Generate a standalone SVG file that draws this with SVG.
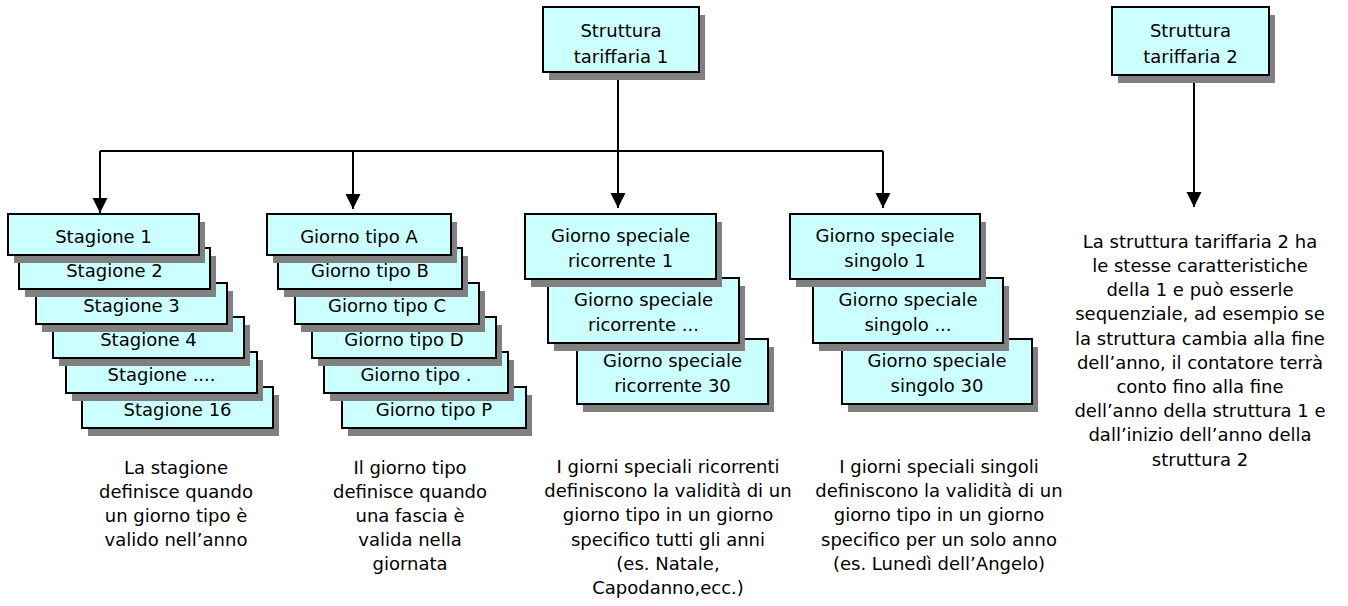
<svg xmlns="http://www.w3.org/2000/svg" width="1348" height="606" viewBox="0 0 1348 606">
<style>
.box{fill:#CCFFFF;stroke:#000;stroke-width:2}
.sh{fill:#808080}
text{font-family:"DejaVu Sans","Liberation Sans",sans-serif;font-size:18px;fill:#000;text-anchor:middle}
.ln{fill:none;stroke:#000;stroke-width:2}
</style>
<defs>
<marker id="ah" markerUnits="userSpaceOnUse" markerWidth="16" markerHeight="16" refX="15" refY="7.5" orient="auto">
<path d="M0,0 L15,7.5 L0,15 z" fill="#000"/>
</marker>
</defs>
<rect width="1348" height="606" fill="#fff"/>

<g id="connectors">
<line class="ln" x1="618" y1="73" x2="618" y2="151"/>
<line class="ln" x1="100" y1="151" x2="883" y2="151"/>
<line class="ln" x1="100" y1="151" x2="100" y2="213" marker-end="url(#ah)"/>
<line class="ln" x1="353" y1="151" x2="353" y2="209" marker-end="url(#ah)"/>
<line class="ln" x1="618" y1="151" x2="618" y2="208" marker-end="url(#ah)"/>
<line class="ln" x1="883" y1="151" x2="883" y2="208" marker-end="url(#ah)"/>
<line class="ln" x1="1194" y1="76" x2="1194" y2="207" marker-end="url(#ah)"/>
</g>

<g id="struttura1">
<rect class="sh" x="549" y="15" width="156" height="65"/>
<rect class="box" x="543" y="7" width="156" height="65"/>
<text x="621" y="37">Struttura</text>
<text x="621" y="63">tariffaria 1</text>
</g>

<g id="struttura2">
<rect class="sh" x="1118" y="15" width="157" height="68"/>
<rect class="box" x="1112" y="7" width="157" height="68"/>
<text x="1190.5" y="37">Struttura</text>
<text x="1190.5" y="63">tariffaria 2</text>
</g>

<g id="stagioni">
<g id="stagione16">
<rect class="sh" x="88" y="395" width="191" height="41"/>
<rect class="box" x="82" y="387" width="191" height="41"/>
<text x="177.5" y="416">Stagione 16</text>
</g>
<g id="stagione-n">
<rect class="sh" x="72" y="360" width="191" height="41"/>
<rect class="box" x="66" y="352" width="191" height="41"/>
<text x="161.5" y="381">Stagione ....</text>
</g>
<g id="stagione4">
<rect class="sh" x="59" y="325" width="191" height="41"/>
<rect class="box" x="53" y="317" width="191" height="41"/>
<text x="148.5" y="346">Stagione 4</text>
</g>
<g id="stagione3">
<rect class="sh" x="42" y="291" width="191" height="41"/>
<rect class="box" x="36" y="283" width="191" height="41"/>
<text x="131.5" y="312">Stagione 3</text>
</g>
<g id="stagione2">
<rect class="sh" x="25" y="256" width="191" height="41"/>
<rect class="box" x="19" y="248" width="191" height="41"/>
<text x="114.5" y="277">Stagione 2</text>
</g>
<g id="stagione1">
<rect class="sh" x="14" y="222" width="191" height="41"/>
<rect class="box" x="8" y="214" width="191" height="41"/>
<text x="103.5" y="243">Stagione 1</text>
</g>
</g>

<g id="giorni-tipo">
<g id="tipoP">
<rect class="sh" x="348" y="395" width="184" height="41"/>
<rect class="box" x="342" y="387" width="184" height="41"/>
<text x="434" y="416">Giorno tipo P</text>
</g>
<g id="tipo-n">
<rect class="sh" x="330" y="360" width="184" height="41"/>
<rect class="box" x="324" y="352" width="184" height="41"/>
<text x="416" y="381">Giorno tipo .</text>
</g>
<g id="tipoD">
<rect class="sh" x="318" y="325" width="184" height="41"/>
<rect class="box" x="312" y="317" width="184" height="41"/>
<text x="404" y="346">Giorno tipo D</text>
</g>
<g id="tipoC">
<rect class="sh" x="301" y="291" width="184" height="41"/>
<rect class="box" x="295" y="283" width="184" height="41"/>
<text x="387" y="312">Giorno tipo C</text>
</g>
<g id="tipoB">
<rect class="sh" x="284" y="256" width="184" height="41"/>
<rect class="box" x="278" y="248" width="184" height="41"/>
<text x="370" y="277">Giorno tipo B</text>
</g>
<g id="tipoA">
<rect class="sh" x="273" y="222" width="184" height="41"/>
<rect class="box" x="267" y="214" width="184" height="41"/>
<text x="359" y="243">Giorno tipo A</text>
</g>
</g>

<g id="ricorrenti">
<g id="ricorrente30">
<rect class="sh" x="583" y="347" width="191" height="65"/>
<rect class="box" x="577" y="339" width="191" height="65"/>
<text x="672.5" y="367">Giorno speciale</text>
<text x="672.5" y="392">ricorrente 30</text>
</g>
<g id="ricorrente-n">
<rect class="sh" x="554" y="286" width="191" height="65"/>
<rect class="box" x="548" y="278" width="191" height="65"/>
<text x="643.5" y="306">Giorno speciale</text>
<text x="643.5" y="331">ricorrente ...</text>
</g>
<g id="ricorrente1">
<rect class="sh" x="531" y="222" width="191" height="65"/>
<rect class="box" x="525" y="214" width="191" height="65"/>
<text x="620.5" y="242">Giorno speciale</text>
<text x="620.5" y="267">ricorrente 1</text>
</g>
</g>

<g id="singoli">
<g id="singolo30">
<rect class="sh" x="848" y="347" width="190" height="65"/>
<rect class="box" x="842" y="339" width="190" height="65"/>
<text x="937" y="367">Giorno speciale</text>
<text x="937" y="392">singolo 30</text>
</g>
<g id="singolo-n">
<rect class="sh" x="819" y="286" width="190" height="65"/>
<rect class="box" x="813" y="278" width="190" height="65"/>
<text x="908" y="306">Giorno speciale</text>
<text x="908" y="331">singolo ...</text>
</g>
<g id="singolo1">
<rect class="sh" x="796" y="222" width="190" height="65"/>
<rect class="box" x="790" y="214" width="190" height="65"/>
<text x="885" y="242">Giorno speciale</text>
<text x="885" y="267">singolo 1</text>
</g>
</g>

<g id="nota-stagione">
<text x="176" y="474">La stagione</text>
<text x="176" y="498">definisce quando</text>
<text x="176" y="522">un giorno tipo è</text>
<text x="176" y="546">valido nell’anno</text>
</g>

<g id="nota-giorno-tipo">
<text x="410" y="474">Il giorno tipo</text>
<text x="410" y="498">definisce quando</text>
<text x="410" y="522">una fascia è</text>
<text x="410" y="546">valida nella</text>
<text x="410" y="570">giornata</text>
</g>

<g id="nota-ricorrenti">
<text x="668" y="473">I giorni speciali ricorrenti</text>
<text x="668" y="497">definiscono la validità di un</text>
<text x="668" y="521">giorno tipo in un giorno</text>
<text x="668" y="546">specifico tutti gli anni</text>
<text x="668" y="570">(es. Natale,</text>
<text x="668" y="594">Capodanno,ecc.)</text>
</g>

<g id="nota-singoli">
<text x="939" y="473">I giorni speciali singoli</text>
<text x="939" y="497">definiscono la validità di un</text>
<text x="939" y="521">giorno tipo in un giorno</text>
<text x="939" y="546">specifico per un solo anno</text>
<text x="939" y="570">(es. Lunedì dell’Angelo)</text>
</g>

<g id="nota-struttura2">
<text x="1200" y="248">La struttura tariffaria 2 ha</text>
<text x="1200" y="272">le stesse caratteristiche</text>
<text x="1200" y="296">della 1 e può esserle</text>
<text x="1200" y="320">sequenziale, ad esempio se</text>
<text x="1200" y="345">la struttura cambia alla fine</text>
<text x="1200" y="369">dell’anno, il contatore terrà</text>
<text x="1200" y="393">conto fino alla fine</text>
<text x="1200" y="417">dell’anno della struttura 1 e</text>
<text x="1200" y="441">dall’inizio dell’anno della</text>
<text x="1200" y="466">struttura 2</text>
</g>
</svg>
